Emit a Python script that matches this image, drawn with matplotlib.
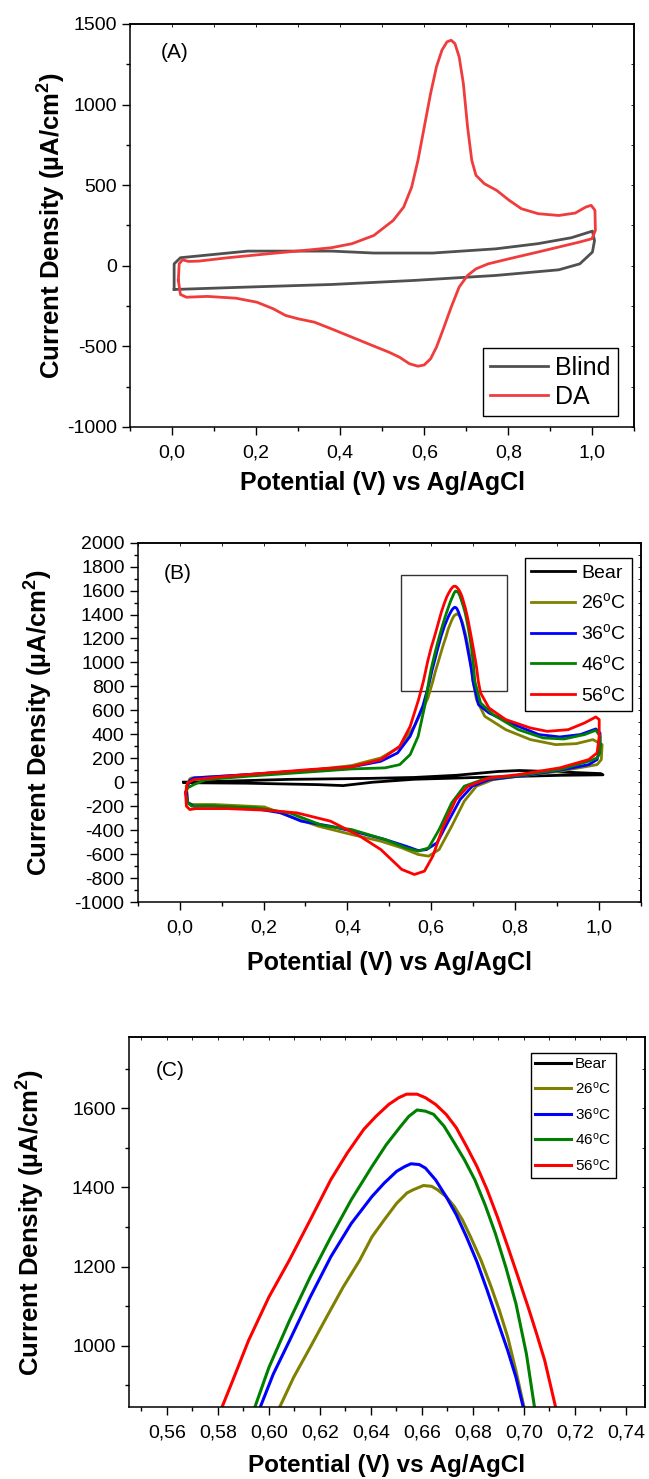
"""
Cyclic voltammograms: (A) blind vs DA, (B) DA at several temperatures,
(C) zoom on the anodic peak of (B).

Output:
    out.png
"""

import matplotlib

matplotlib.use("Agg")
import matplotlib.pyplot as plt
from matplotlib.patches import Rectangle
from matplotlib.ticker import FuncFormatter, MultipleLocator

# ---------------------------------------------------------------- panel A
blind_x = [0.005, 0.005, 0.02, 0.18, 0.38, 0.48, 0.62, 0.77, 0.87, 0.95, 1.0,
           1.005, 1.0, 0.97, 0.92, 0.77, 0.575, 0.38, 0.18, 0.005]
blind_y = [-143, 12, 50, 91, 91, 79, 79, 105, 137, 174, 215,
           157, 85, 12, -25, -60, -91, -116, -132, -147]

da_x = [0.015, 0.017, 0.025, 0.039, 0.064, 0.133, 0.231, 0.329, 0.379, 0.428,
        0.48, 0.526, 0.551, 0.570, 0.585, 0.600, 0.615, 0.629, 0.642, 0.654,
        0.664, 0.673, 0.683, 0.693, 0.703, 0.713, 0.723, 0.743, 0.772, 0.802,
        0.831, 0.871, 0.920, 0.959, 0.984, 0.997, 1.006, 1.007, 0.999, 0.969,
        0.870, 0.801, 0.752, 0.723, 0.703, 0.683, 0.664, 0.644, 0.629, 0.615,
        0.600, 0.585, 0.565, 0.541, 0.516, 0.477, 0.428, 0.379, 0.339, 0.300,
        0.270, 0.241, 0.202, 0.152, 0.084, 0.034, 0.020, 0.015]
da_y = [-91, 12, 37, 27, 29, 50, 75, 99, 112, 137,
        188, 281, 364, 488, 654, 861, 1068, 1234, 1337, 1389,
        1399, 1378, 1296, 1130, 861, 654, 561, 509, 468, 406,
        354, 323, 312, 327, 364, 375, 344, 219, 168, 147,
        85, 43, 12, -19, -60, -132, -257, -401, -505, -577,
        -615, -623, -608, -567, -536, -495, -443, -391, -350, -329,
        -308, -267, -226, -201, -190, -195, -178, -91]

# ---------------------------------------------------------------- panel B / C
bear_x = [0.01, 0.1, 0.26, 0.45, 0.56, 0.66, 0.76, 0.81, 0.91, 1.005,
          1.01, 0.91, 0.76, 0.56, 0.46, 0.39, 0.33, 0.16, 0.05, 0.01]
bear_y = [0, 8, 24, 32, 40, 58, 90, 98, 86, 72,
          62, 58, 45, 25, 0, -28, -20, -8, -5, 0]

t26_x = [0.016, 0.024, 0.029, 0.163, 0.31, 0.41, 0.48, 0.525, 0.56, 0.592,
         0.6041, 0.6097, 0.6162, 0.6226, 0.6291, 0.6356, 0.6404, 0.6452,
         0.6501, 0.6541, 0.6565, 0.6606, 0.6638, 0.6662, 0.6695, 0.6727,
         0.6759, 0.6791, 0.6832, 0.6872, 0.6904, 0.6937, 0.6969, 0.7001,
         0.708, 0.728, 0.778, 0.837, 0.897, 0.946, 0.986, 1.008, 1.006, 0.996,
         0.907, 0.808, 0.748, 0.708, 0.679, 0.649, 0.619, 0.594, 0.569, 0.53,
         0.48, 0.41, 0.331, 0.262, 0.202, 0.083, 0.029, 0.019, 0.016]
t26_y = [-33, 28, 36, 64, 100, 139, 203, 295, 467, 700,
         843, 920, 996, 1072, 1148, 1216, 1275, 1318,
         1360, 1386, 1394, 1405, 1403, 1394, 1377, 1352,
         1318, 1275, 1216, 1148, 1089, 1021, 936, 843,
         690, 550, 439, 356, 314, 322, 356, 314, 189, 147,
         92, 50, 22, -33, -158, -367, -562, -617, -603, -548,
         -492, -436, -367, -284, -206, -186, -186, -167, -33]

t36_x = [0.016, 0.024, 0.034, 0.163, 0.31, 0.41, 0.48, 0.52, 0.55, 0.58,
         0.5965, 0.6017, 0.6081, 0.6162, 0.6243, 0.6323, 0.6404, 0.6452,
         0.6501, 0.6533, 0.6557, 0.659, 0.6614, 0.6654, 0.6695, 0.6735,
         0.6775, 0.6816, 0.6856, 0.6896, 0.6937, 0.6969, 0.6998,
         0.713, 0.738, 0.798, 0.857, 0.907, 0.956, 0.993, 1.003, 1.003, 0.996,
         0.976, 0.907, 0.808, 0.738, 0.698, 0.669, 0.639, 0.614, 0.589, 0.569,
         0.54, 0.49, 0.43, 0.36, 0.29, 0.242, 0.183, 0.083, 0.034, 0.019,
         0.016]
t36_y = [-61, 14, 36, 64, 100, 128, 175, 245, 384, 634,
         843, 928, 1013, 1123, 1225, 1309, 1377, 1411,
         1441, 1453, 1460, 1458, 1449, 1419, 1377, 1331,
         1275, 1212, 1140, 1064, 987, 920, 843,
         648, 578, 481, 398, 378, 398, 445, 411, 300, 189,
         147, 100, 50, 22, -33, -145, -339, -506, -562, -570,
         -534, -478, -423, -367, -325, -256, -222, -200, -200, -172,
         -61]

t46_x = [0.014, 0.019, 0.034, 0.063, 0.163, 0.31, 0.41, 0.49, 0.525, 0.55,
         0.569, 0.585, 0.5944, 0.600, 0.6081, 0.6162, 0.6243, 0.6323, 0.6404,
         0.646, 0.6517, 0.6549, 0.6581, 0.6614, 0.6646, 0.6687, 0.6727,
         0.6767, 0.6808, 0.6848, 0.6888, 0.6929, 0.6969, 0.701, 0.7042,
         0.718, 0.748, 0.808, 0.867, 0.917, 0.966, 0.993, 1.003, 1.003, 0.996,
         0.976, 0.907, 0.808, 0.728, 0.679, 0.649, 0.619, 0.594, 0.569, 0.54,
         0.49, 0.41, 0.341, 0.262, 0.183, 0.063, 0.029, 0.019, 0.014]
t46_y = [-89, -47, -19, 22, 50, 86, 111, 120, 147, 231,
         384, 640, 843, 945, 1064, 1174, 1275, 1369, 1453,
         1508, 1555, 1580, 1596, 1593, 1585, 1555, 1513,
         1470, 1419, 1356, 1284, 1199, 1106, 979, 843,
         662, 564, 439, 370, 361, 398, 434, 384, 245, 203,
         175, 106, 56, 28, -33, -172, -395, -548, -575, -548,
         -478, -395, -361, -256, -214, -195, -200, -172, -89]

t56_x = [0.014, 0.019, 0.034, 0.113, 0.21, 0.31, 0.41, 0.48, 0.525, 0.55, 0.57,
         0.5815, 0.5855, 0.592, 0.600, 0.608, 0.6162, 0.6243, 0.6307, 0.6372,
         0.642, 0.647, 0.6509, 0.654, 0.6581, 0.6614, 0.6654, 0.6695, 0.6735,
         0.6775, 0.6816, 0.6856, 0.6896, 0.6937, 0.6977, 0.7017, 0.705,
         0.7082, 0.7125, 0.718, 0.738, 0.778, 0.837, 0.877, 0.927, 0.966,
         0.993, 1.001, 1.001, 0.996, 0.976, 0.907, 0.808, 0.738, 0.688, 0.659,
         0.629, 0.604, 0.584, 0.56, 0.53, 0.48, 0.43, 0.36, 0.28, 0.21, 0.113,
         0.039, 0.024, 0.016, 0.014]
t56_y = [-89, -6, 22, 50, 78, 106, 128, 189, 300, 467, 690,
         843, 907, 1013, 1123, 1216, 1318, 1420, 1487, 1547,
         1580, 1610, 1627, 1636, 1636, 1627, 1610, 1585, 1551,
         1504, 1453, 1394, 1326, 1250, 1174, 1097, 1030,
         962, 843, 745, 620, 523, 453, 425, 439, 495,
         545, 523, 384, 245, 189, 120, 64, 36, -33, -145,
         -367, -617, -742, -770, -728, -562, -450, -325, -256, -234, -220,
         -220, -228, -200, -89]

temp_labels = ["Bear", "26$^{\\rm o}$C", "36$^{\\rm o}$C", "46$^{\\rm o}$C", "56$^{\\rm o}$C"]
temp_colors = ["#000000", "#808000", "#0000ff", "#008000", "#ff0000"]
temp_series = [(bear_x, bear_y), (t26_x, t26_y), (t36_x, t36_y),
               (t46_x, t46_y), (t56_x, t56_y)]

# region of (B) shown enlarged in (C)
zoom_box_x = (0.528, 0.782)
zoom_box_y = (758, 1728)

# ---------------------------------------------------------------- style
plt.rcParams.update(
    {
        "font.family": ["Liberation Sans", "DejaVu Sans"],
        "mathtext.fontset": "custom",
        "mathtext.rm": "Liberation Sans",
        "mathtext.it": "Liberation Sans:italic",
        "mathtext.bf": "Liberation Sans:bold",
        "axes.unicode_minus": False,
        "axes.linewidth": 1.1,
        "xtick.labelsize": 14,
        "ytick.labelsize": 14,
    }
)

XLABEL = "Potential (V) vs Ag/AgCl"
YLABEL = "Current Density (\u00b5A/cm$^{\\mathbf{2}}$)"


def comma(fmt):
    return FuncFormatter(lambda v, _: fmt.format(v).replace(".", ","))


def add_top_right(ax):
    # small inward ticks on the top and right spines, no labels
    top = ax.secondary_xaxis("top")
    right = ax.secondary_yaxis("right")
    top.xaxis.set_major_locator(ax.xaxis.get_major_locator())
    top.xaxis.set_minor_locator(ax.xaxis.get_minor_locator())
    right.yaxis.set_major_locator(ax.yaxis.get_major_locator())
    right.yaxis.set_minor_locator(ax.yaxis.get_minor_locator())
    for sec in (top, right):
        sec.tick_params(which="both", direction="in", length=2.0, width=0.6,
                        labeltop=False, labelright=False, labelbottom=False,
                        labelleft=False)


def add_legend(ax, anchor, loc, size, spacing):
    ax.legend(loc=loc, bbox_to_anchor=anchor, fontsize=size,
              frameon=True, fancybox=False, framealpha=1, edgecolor="black",
              handlelength=2.3, handletextpad=0.3, labelspacing=spacing,
              borderpad=0.3, borderaxespad=0)


fig = plt.figure(figsize=(6.49, 14.79), dpi=100)

# ---------------------------------------------------------------- (A)
axA = fig.add_axes([0.2003, 0.7113, 0.7773, 0.2725])
axA.plot(blind_x, blind_y, color="#505050", lw=2.0, label="Blind")
axA.plot(da_x, da_y, color="#f03c3c", lw=2.0, label="DA")
axA.set_xlim(-0.1, 1.1)
axA.set_ylim(-1000, 1500)
axA.xaxis.set_major_locator(MultipleLocator(0.2))
axA.xaxis.set_minor_locator(MultipleLocator(0.1))
axA.yaxis.set_major_locator(MultipleLocator(500))
axA.yaxis.set_minor_locator(MultipleLocator(250))
axA.xaxis.set_major_formatter(comma("{:.1f}"))
axA.text(-0.027, 1320, "(A)", fontsize=15, va="center", ha="left")
add_legend(axA, (0.968, 0.027), "lower right", 18, 0.2)

# ---------------------------------------------------------------- (B)
axB = fig.add_axes([0.2123, 0.3901, 0.7749, 0.2430])
for (xs, ys), lab, col in zip(temp_series, temp_labels, temp_colors):
    axB.plot(xs, ys, color=col, lw=2.0, label=lab)
axB.add_patch(Rectangle((zoom_box_x[0], zoom_box_y[0]),
                        zoom_box_x[1] - zoom_box_x[0],
                        zoom_box_y[1] - zoom_box_y[0],
                        fill=False, ec="#333333", lw=1.0, zorder=1))
axB.set_xlim(-0.1, 1.1)
axB.set_ylim(-1000, 2000)
axB.xaxis.set_major_locator(MultipleLocator(0.2))
axB.xaxis.set_minor_locator(MultipleLocator(0.1))
axB.yaxis.set_major_locator(MultipleLocator(200))
axB.yaxis.set_minor_locator(MultipleLocator(100))
axB.xaxis.set_major_formatter(comma("{:.1f}"))
axB.text(-0.037, 1745, "(B)", fontsize=15, va="center", ha="left")
add_legend(axB, (0.983, 0.957), "upper right", 14, 0.56)

# ---------------------------------------------------------------- (C)
axC = fig.add_axes([0.1983, 0.0487, 0.7955, 0.2500])
for (xs, ys), lab, col in zip(temp_series, temp_labels, temp_colors):
    axC.plot(xs, ys, color=col, lw=2.2, label=lab)
axC.set_xlim(0.545, 0.7475)
axC.set_ylim(845, 1780)
axC.xaxis.set_major_locator(MultipleLocator(0.02))
axC.xaxis.set_minor_locator(MultipleLocator(0.01))
axC.yaxis.set_major_locator(MultipleLocator(200))
axC.yaxis.set_minor_locator(MultipleLocator(100))
axC.xaxis.set_major_formatter(comma("{:.2f}"))
axC.text(0.5556, 1695, "(C)", fontsize=15, va="center", ha="left")
add_legend(axC, (0.943, 0.958), "upper right", 11, 0.62)

# ---------------------------------------------------------------- common
label_pos = {axA: (-0.122, -0.109), axB: (-0.165, -0.1355), axC: (-0.158, -0.128)}
for ax in (axA, axB, axC):
    ax.tick_params(which="major", direction="out", length=5.5, width=1.0)
    ax.tick_params(which="minor", direction="out", length=2.8, width=1.0)
    ax.tick_params(axis="y", which="major", pad=4)
    ax.tick_params(axis="x", which="major", pad=7)
    ax.set_xlabel(XLABEL, fontsize=18, fontweight="bold")
    ax.set_ylabel(YLABEL, fontsize=18.5, fontweight="bold")
    yx, xy = label_pos[ax]
    ax.yaxis.set_label_coords(yx, 0.5)
    ax.xaxis.set_label_coords(0.5, xy)
    add_top_right(ax)

axC.xaxis.label.set_fontsize(17.5)

fig.savefig("out.png", dpi=100)
